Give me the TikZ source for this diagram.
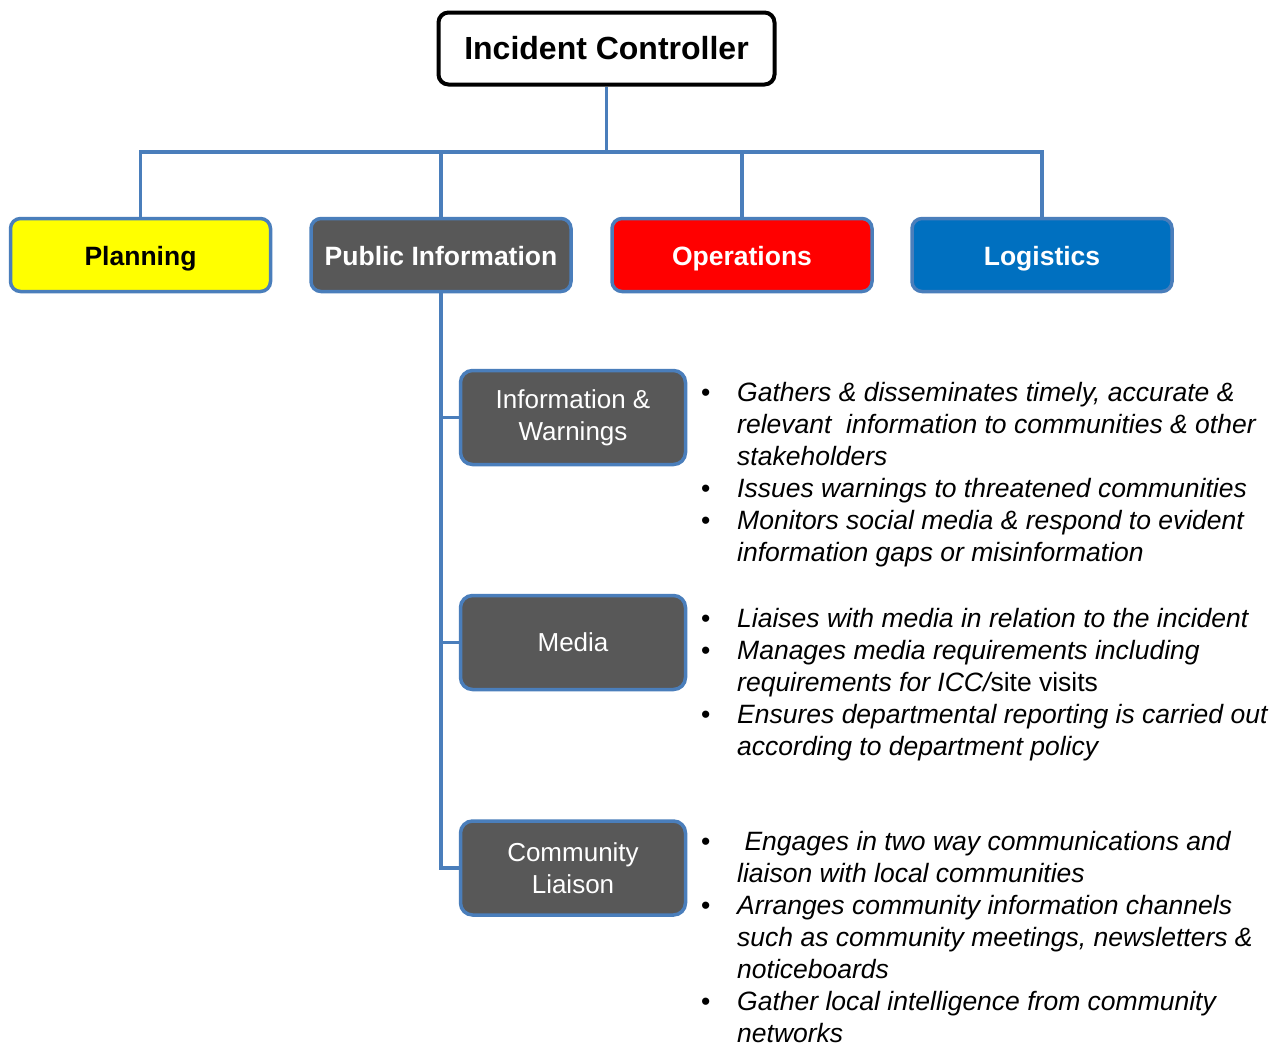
\documentclass[tikz,border=0pt]{standalone}
\usepackage{fontspec}
\setmainfont{Liberation Sans}
\definecolor{linkblue}{RGB}{74,126,187}
\definecolor{boxgray}{RGB}{88,88,88}
\definecolor{logblue}{RGB}{0,112,192}
\definecolor{brightyellow}{RGB}{255,255,0}
\begin{document}
\begin{tikzpicture}[x=1pt,y=-1pt,
  conn/.style={draw=linkblue,line width=3.5pt,line join=miter},
  topbox/.style={draw=linkblue,line width=3.5pt,rounded corners=10pt,minimum width=260pt,minimum height=73pt,inner sep=0pt,font=\fontsize{26.5}{32}\selectfont\bfseries,text height=24pt,text depth=3pt},
  subbox/.style={draw=linkblue,line width=3.5pt,rounded corners=12pt,fill=boxgray,text=white,minimum width=225pt,minimum height=94pt,inner sep=0pt,align=center,font=\fontsize{26}{32}\selectfont},
  bullets/.style={anchor=base west,inner sep=0pt,font=\fontsize{26.5}{32}\selectfont}]
\useasboundingbox (0,0) rectangle (1282,1045);
\fill[white] (0,0) rectangle (1282,1045);

\node[draw=black,line width=4pt,rounded corners=10pt,fill=white,minimum width=336pt,minimum height=72pt,inner sep=0pt,font=\fontsize{32}{38}\selectfont\bfseries] (ic) at (606.5,48.5) {Incident Controller};

\node[topbox,fill=brightyellow,text=black] (plan) at (140.5,255) {Planning};
\node[topbox,fill=boxgray,text=white] (pub) at (441,255) {Public Information};
\node[topbox,fill=red,text=white] (ops) at (742,255) {Operations};
\node[topbox,fill=logblue,text=white] (log) at (1042,255) {Logistics};

\coordinate (bus) at (606.5,152);
\draw[conn] (ic.south) -- (bus);
\draw[conn] (plan.north) |- (bus);
\draw[conn] (log.north) |- (bus);
\draw[conn] (pub.north) -- (pub.north |- bus);
\draw[conn] (ops.north) -- (ops.north |- bus);

\node[subbox] (iw) at (573,417.5) {Information \&\\Warnings};
\node[subbox] (med) at (573,642.5) {Media};
\node[subbox] (cl) at (573,868) {Community\\Liaison};

\draw[conn] (pub.south) |- (cl.west);
\draw[conn] (iw.west) -| (pub.south);
\draw[conn] (med.west) -| (pub.south);

\node[bullets] (t1) at (701,401) {\begin{tabular}[t]{@{}l@{}l@{}}
\makebox[36pt][l]{•} & \itshape Gathers \& disseminates timely, accurate \&\\
 & \itshape relevant\ \ information to communities \& other\\
 & \itshape stakeholders\\
\makebox[36pt][l]{•} & \itshape Issues warnings to threatened communities\\
\makebox[36pt][l]{•} & \itshape Monitors social media \& respond to evident\\
 & \itshape information gaps or misinformation
\end{tabular}};

\node[bullets] (t2) at (701,627) {\begin{tabular}[t]{@{}l@{}l@{}}
\makebox[36pt][l]{•} & \itshape Liaises with media in relation to the incident\\
\makebox[36pt][l]{•} & \itshape Manages media requirements including\\
 & {\itshape requirements for ICC/}site visits\\
\makebox[36pt][l]{•} & \itshape Ensures departmental reporting is carried out\\
 & \itshape according to department policy
\end{tabular}};

\node[bullets] (t3) at (701,850) {\begin{tabular}[t]{@{}l@{}l@{}}
\makebox[36pt][l]{•} & \itshape \ Engages in two\ way communications and\\
 & \itshape liaison with local communities\\
\makebox[36pt][l]{•} & \itshape Arranges community information channels\\
 & \itshape such as community meetings, newsletters \&\\
 & \itshape noticeboards\\
\makebox[36pt][l]{•} & \itshape Gather local intelligence from community\\
 & \itshape networks
\end{tabular}};
\end{tikzpicture}
\end{document}
